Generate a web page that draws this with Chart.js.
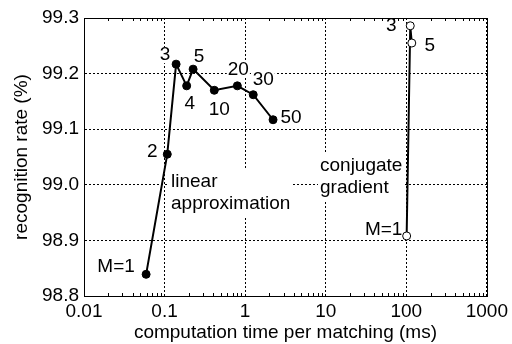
<!DOCTYPE html>
<html>
<head>
<meta charset="utf-8">
<script src="https://cdn.jsdelivr.net/npm/chart.js@4/dist/chart.umd.min.js"></script>
<style>
  html, body { margin: 0; padding: 0; background: #fff; }
  #wrap { width: 512px; height: 344px; }
</style>
</head>
<body>
<div id="wrap"><canvas id="c" width="512" height="344"></canvas></div>
<script>
// linear approximation: computation time (ms) vs recognition rate (%)
const linTime = [0.059, 0.108, 0.139, 0.188, 0.226, 0.414, 0.80, 1.26, 2.22];
const linRate = [98.839, 99.055, 99.217, 99.178, 99.208, 99.170, 99.178, 99.162, 99.117];
const linLabels = ["M=1", "2", "3", "4", "5", "10", "20", "30", "50"];

// conjugate gradient
const cgTime = [101, 112, 117];
const cgRate = [98.908, 99.286, 99.255];
const cgLabels = ["M=1", "3", "5"];

const xTicks = [0.01, 0.1, 1, 10, 100, 1000];
const xTickText = ["0.01", "0.1", "1", "10", "100", "1000"];
const yTicks = [98.8, 98.9, 99.0, 99.1, 99.2, 99.3];

const FONT = "'Liberation Sans', Arial, sans-serif";
const FS = 19;

// label offsets (px) relative to their point
const linOffsets = [[-30, -8], [-15, -2], [-11, -9], [3, 18], [6, -12], [5, 19], [1, -16], [10, -15], [18, -2]];
const cgOffsets = [[-23, -6], [-19, 0], [18, 3]];

// text blocks for the series names: [lines, left, first line centre y]
const seriesNotes = [
  [["linear", "approximation"], 171, 182],
  [["conjugate", "gradient"], 320, 166]
];

function labelSpots(chart) {
  const xs = chart.scales.x, ys = chart.scales.y;
  const out = [];
  linLabels.forEach((t, i) => out.push([t, xs.getPixelForValue(linTime[i]) + linOffsets[i][0], ys.getPixelForValue(linRate[i]) + linOffsets[i][1]]));
  cgLabels.forEach((t, i) => out.push([t, xs.getPixelForValue(cgTime[i]) + cgOffsets[i][0], ys.getPixelForValue(cgRate[i]) + cgOffsets[i][1]]));
  return out;
}

const pointLabels = {
  id: "pointLabels",
  beforeDatasetsDraw(chart) {
    // white boxes behind the text, hiding grid lines
    const ctx = chart.ctx;
    ctx.save();
    ctx.font = FS + "px " + FONT;
    ctx.fillStyle = "#fff";
    labelSpots(chart).forEach(([t, x, y]) => {
      const w = ctx.measureText(t).width;
      ctx.fillRect(x - w / 2 - 1, y - 8, w + 2, 16);
    });
    seriesNotes.forEach(([lines, x, y]) => {
      const w = Math.max(...lines.map(l => ctx.measureText(l).width));
      ctx.fillRect(x - 2, y - 14, w + 4, 22 * lines.length + 4);
    });
    ctx.restore();
  },
  afterDatasetsDraw(chart) {
    const ctx = chart.ctx;
    ctx.save();
    ctx.fillStyle = "#000";
    ctx.font = FS + "px " + FONT;
    ctx.textAlign = "center";
    ctx.textBaseline = "middle";
    labelSpots(chart).forEach(([t, x, y]) => ctx.fillText(t, x, y));
    ctx.textAlign = "left";
    seriesNotes.forEach(([lines, x, y]) => {
      lines.forEach((l, k) => ctx.fillText(l, x, y + k * 22));
    });
    ctx.restore();
  }
};

// solid frame plus small inward minor ticks on top and bottom
const frame = {
  id: "frame",
  afterDraw(chart) {
    const ctx = chart.ctx;
    const xs = chart.scales.x;
    const a = chart.chartArea;
    ctx.save();
    ctx.strokeStyle = "#000";
    ctx.lineWidth = 1;
    ctx.strokeRect(Math.round(a.left) + 0.5, Math.round(a.top) + 0.5,
      Math.round(a.right - a.left), Math.round(a.bottom - a.top));
    ctx.beginPath();
    for (let d = 0.01; d < 1000; d *= 10) {
      for (let m = 2; m <= 9; m++) {
        const px = Math.round(xs.getPixelForValue(d * m)) + 0.5;
        ctx.moveTo(px, a.bottom);
        ctx.lineTo(px, a.bottom - 3);
        ctx.moveTo(px, a.top);
        ctx.lineTo(px, a.top + 3);
      }
    }
    ctx.stroke();
    ctx.restore();
  }
};

new Chart(document.getElementById("c"), {
  type: "line",
  data: {
    datasets: [
      {
        label: "linear approximation",
        data: linTime.map((t, i) => ({ x: t, y: linRate[i] })),
        borderColor: "#000",
        backgroundColor: "#000",
        borderWidth: 2,
        pointRadius: 4,
        pointBorderWidth: 1,
        pointBackgroundColor: "#000",
        tension: 0
      },
      {
        label: "conjugate gradient",
        data: cgTime.map((t, i) => ({ x: t, y: cgRate[i] })),
        borderColor: "#000",
        borderWidth: 2,
        pointRadius: 4,
        pointBorderWidth: 1,
        pointBackgroundColor: "#fff",
        tension: 0
      }
    ]
  },
  options: {
    responsive: false,
    animation: false,
    layout: { padding: { left: 0, right: 23, top: 18, bottom: 0 } },
    plugins: {
      legend: { display: false },
      tooltip: { enabled: false }
    },
    scales: {
      x: {
        type: "logarithmic",
        min: 0.01,
        max: 1000,
        afterBuildTicks: (s) => { s.ticks = xTicks.map(v => ({ value: v })); },
        afterFit: (s) => { s.height = 48; },
        ticks: {
          color: "#000",
          font: { family: FONT, size: FS },
          padding: 4,
          maxRotation: 0,
          autoSkip: false,
          callback: (v) => { const i = xTicks.indexOf(v); return i >= 0 ? xTickText[i] : ""; }
        },
        grid: { color: "#000", drawTicks: false },
        border: { color: "#000", width: 1, dash: [2, 2] },
        title: {
          display: true,
          text: "computation time per matching (ms)",
          color: "#000",
          font: { family: FONT, size: FS },
          padding: { top: 0, bottom: 0 }
        }
      },
      y: {
        min: 98.8,
        max: 99.3,
        afterBuildTicks: (s) => { s.ticks = yTicks.map(v => ({ value: v })); },
        afterFit: (s) => { s.width = 84; },
        ticks: {
          color: "#000",
          font: { family: FONT, size: FS },
          padding: 5,
          callback: (v) => v.toFixed(1)
        },
        grid: { color: "#000", drawTicks: false },
        border: { color: "#000", width: 1, dash: [2, 2] },
        title: {
          display: true,
          text: "recognition rate (%)",
          color: "#000",
          font: { family: FONT, size: FS },
          padding: { top: 10, bottom: 0 }
        }
      }
    }
  },
  plugins: [frame, pointLabels]
});
</script>
</body>
</html>
